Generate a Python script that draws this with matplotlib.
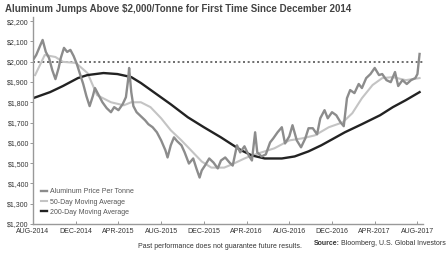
import matplotlib.pyplot as plt

# months since Aug-2014
price_m = [0.0, 0.3, 0.7, 0.9, 1.2, 1.5, 1.8, 2.1, 2.4, 2.6, 2.9, 3.2, 3.5, 3.8, 4.1, 4.4,
           4.7, 5.0, 5.3, 5.6, 5.8, 6.1, 6.5, 6.9, 7.3, 7.6, 8.0, 8.4, 8.7, 8.9, 9.0, 9.2,
           9.4, 9.7, 10.1, 10.5, 10.8, 11.2, 11.6, 12.0, 12.4, 12.6, 12.9, 13.2, 13.5, 13.9,
           14.2, 14.6, 15.0, 15.3, 15.6, 15.8, 16.1, 16.5, 16.9, 17.3, 17.6, 18.0, 18.4, 18.7,
           19.1, 19.4, 19.8, 20.2, 20.5, 20.8, 21.0, 21.4, 21.8, 22.2, 22.5, 22.9, 23.3, 23.6,
           24.0, 24.3, 24.7, 25.1, 25.5, 25.8, 26.2, 26.6, 26.9, 27.3, 27.6, 28.0, 28.4, 28.8,
           29.1, 29.4, 29.7, 30.1, 30.5, 30.8, 31.2, 31.6, 32.0, 32.4, 32.7, 33.1, 33.5, 33.9,
           34.2, 34.6, 35.0, 35.4, 35.8, 36.0, 36.2]
price = [2008, 2033, 2083, 2107, 2048, 2018, 1959, 1914, 1969, 2018, 2068, 2048, 2058, 2028, 1989, 1939,
         1890, 1830, 1781, 1830, 1870, 1840, 1800, 1771, 1751, 1776, 1761, 1791, 1825, 1909, 1969, 1850,
         1781, 1751, 1731, 1711, 1692, 1677, 1652, 1612, 1563, 1528, 1588, 1627, 1608, 1588,
         1553, 1498, 1523, 1474, 1429, 1464, 1488, 1523, 1503, 1474, 1513, 1528, 1503, 1488,
         1588, 1553, 1583, 1538, 1513, 1652, 1553, 1533, 1543, 1602, 1622, 1652, 1677, 1597,
         1632, 1687, 1612, 1578, 1622, 1672, 1672, 1642, 1721, 1761, 1721, 1751, 1736, 1701,
         1682, 1820, 1860, 1845, 1890, 1870, 1919, 1939, 1969, 1934, 1939, 1909, 1899, 1949,
         1880, 1909, 1890, 1909, 1919, 1939, 2038]

ma50_m = [0.2, 1.1, 2.1, 2.8, 4.0, 5.1, 6.0, 7.3, 8.5, 9.2, 10.1, 11.0, 12.0, 12.9, 13.9, 14.8,
          15.8, 16.7, 17.9, 18.6, 19.8, 20.5, 21.4, 22.6, 24.0, 25.2, 26.4, 27.7, 29.0, 29.9,
          30.8, 31.8, 32.7, 33.7, 34.9, 36.2]
ma50 = [1934, 2033, 2023, 1999, 1994, 1944, 1835, 1800, 1785, 1800, 1800, 1776, 1721, 1662, 1612, 1563,
        1508, 1478, 1478, 1493, 1523, 1538, 1553, 1573, 1612, 1622, 1637, 1677, 1701, 1746,
        1820, 1885, 1919, 1924, 1909, 1919]

ma200_m = [0.0, 1.6, 2.8, 4.2, 5.1, 6.6, 7.9, 9.2, 10.1, 11.3, 12.9, 14.5, 16.0, 17.6, 18.6, 19.5,
           20.5, 21.7, 23.3, 24.5, 25.8, 27.0, 28.0, 29.2, 30.8, 32.5, 33.7, 34.9, 36.2]
ma200 = [1820, 1850, 1880, 1919, 1934, 1944, 1939, 1924, 1895, 1850, 1790, 1726, 1677, 1627, 1593, 1563,
         1538, 1523, 1523, 1533, 1558, 1588, 1617, 1652, 1692, 1736, 1776, 1810, 1850]

tick_m = [0, 4, 8, 12, 16, 20, 24, 28, 32, 36]
tick_labels = ["AUG-2014", "DEC-2014", "APR-2015", "AUG-2015", "DEC-2015",
               "APR-2016", "AUG-2016", "DEC-2016", "APR-2017", "AUG-2017"]
y_ticks = [1200, 1300, 1400, 1500, 1600, 1700, 1800, 1900, 2000, 2100, 2200]

plt.rcParams['font.family'] = ['Liberation Sans', 'DejaVu Sans']

fig = plt.figure(figsize=(4.48, 2.54), dpi=100)
ax = fig.add_axes([0.0737, 0.118, 0.87, 0.815])

ax.axhline(2000, color='#555555', ls=(0, (1.2, 1.6)), lw=1.2, zorder=1)
ax.plot(price_m, price, color='#8c8c8c', lw=1.7, label='Aluminum Price Per Tonne', zorder=3)
ax.plot(ma50_m, ma50, color='#c4c4c4', lw=1.5, label='50-Day Moving Average', zorder=2)
ax.plot(ma200_m, ma200, color='#222222', lw=1.7, label='200-Day Moving Average', zorder=2)

ax.set_xlim(0, 36.5)
ax.set_ylim(1200, 2220)
ax.set_xticks(tick_m)
ax.set_xticklabels(tick_labels, fontsize=5, color='#333333')
ax.set_yticks(y_ticks)
ax.set_yticklabels(['${:,}'.format(v) for v in y_ticks], fontsize=5, color='#333333')
ax.tick_params(axis='y', length=2, width=0.6, color='#888888', pad=1)
ax.tick_params(axis='x', length=2, width=0.6, color='#888888', direction='in', pad=3)
for s in ['top', 'right']:
    ax.spines[s].set_visible(False)
for s in ['left', 'bottom']:
    ax.spines[s].set_color('#999999')
    ax.spines[s].set_linewidth(1.0)

leg = ax.legend(loc='lower left', bbox_to_anchor=(0.01, 0.02), frameon=False, fontsize=5,
                handlelength=0.9, handletextpad=0.4, labelspacing=0.45, borderaxespad=0.2)
for t in leg.get_texts():
    t.set_color('#555555')

fig.text(0.012, 0.965, "Aluminum Jumps Above $2,000/Tonne for First Time Since December 2014",
         fontsize=7, fontweight='bold', color='#444444', va='center', ha='left')
fig.text(0.49, 0.03, "Past performance does not guarantee future results.",
         fontsize=5, color='#333333', ha='center', va='center')
src = fig.text(0.70, 0.04, "Source:", fontsize=5, color='#333333', fontweight='bold',
               ha='left', va='center')
ax.annotate(" Bloomberg, U.S. Global Investors", xy=(1, 0.5), xycoords=src,
            fontsize=5, color='#333333', ha='left', va='center', annotation_clip=False)

fig.savefig('out.png', dpi=100)
